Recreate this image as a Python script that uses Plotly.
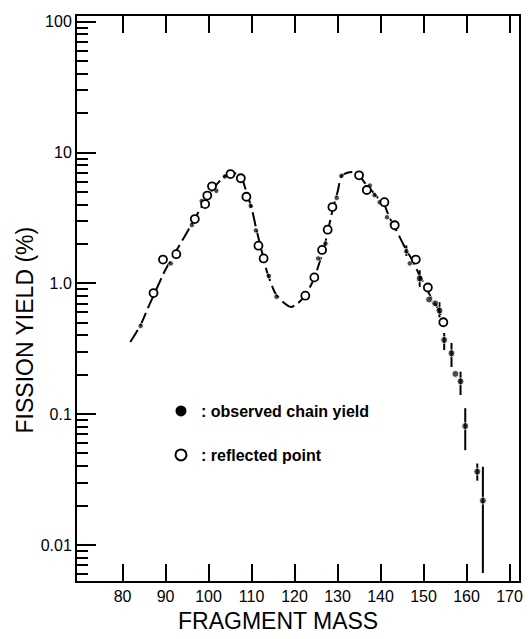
import plotly.graph_objects as go

# ---- data ----
curve_mass = [81.8, 84.2, 86.2, 88.1, 89.9, 92.2, 94.5, 96.6, 98.9, 101.0, 102.8, 104.4,
              106.0, 107.7, 108.8, 110.0, 111.1, 112.3, 113.6, 115.5, 117.3, 119.2, 120.8,
              122.4, 123.6, 124.7, 125.9, 126.8, 127.7, 128.9, 130.0, 130.9, 132.1, 133.5,
              134.8, 136.2, 137.6, 139.2, 140.8, 142.0, 143.4, 144.8, 146.1, 147.5, 148.9,
              150.3, 151.7, 153.0, 154.0, 154.7]
curve_yield = [0.356, 0.481, 0.682, 0.937, 1.26, 1.71, 2.30, 3.05, 4.11, 5.26, 6.16, 6.85,
               6.97, 6.38, 4.99, 3.77, 2.60, 1.80, 1.22, 0.843, 0.719, 0.659, 0.706,
               0.80, 0.937, 1.12, 1.48, 1.83, 2.47, 3.70, 4.99, 6.61, 6.97, 7.10,
               6.85, 5.95, 5.26, 4.57, 4.04, 3.21, 2.65, 2.14, 1.77, 1.48, 1.18,
               0.970, 0.785, 0.670, 0.582, 0.497]

obs_mass = [84.2, 91.2, 96.1, 98.4, 101.8, 103.8, 109.8, 111.0, 114.0, 115.8, 125.5, 127.2,
            129.8, 130.9, 137.5, 138.6, 139.8, 141.5, 142.6, 146.0, 146.8, 149.1, 151.3,
            152.7, 153.7, 154.8, 156.5, 157.4, 158.6, 159.7, 162.5, 163.8]
obs_yield = [0.472, 1.42, 2.79, 4.26, 5.10, 6.56, 3.90, 2.54, 1.14, 0.79, 1.55, 2.01,
             4.50, 6.64, 5.59, 4.72, 4.17, 3.20, 2.83, 1.76, 1.42, 1.09, 0.752,
             0.703, 0.619, 0.369, 0.292, 0.203, 0.178, 0.081, 0.0363, 0.0218]
obs_err_up = [0, 0, 0, 0, 0, 0, 0, 0, 0, 0, 0, 0,
              0, 0, 0, 0, 0, 0, 0, 0.19, 0, 0.17, 0,
              0, 0.10, 0.048, 0.058, 0, 0.033, 0.030, 0.0056, 0.0178]
obs_err_down = [0, 0, 0, 0, 0, 0, 0, 0, 0, 0, 0, 0,
                0, 0, 0, 0, 0, 0, 0, 0.14, 0, 0.15, 0,
                0, 0.07, 0.060, 0.063, 0, 0.038, 0.028, 0.0053, 0.0157]

ref_mass = [87.2, 89.4, 92.5, 96.8, 99.2, 99.7, 100.8, 105.1, 107.5, 108.8, 111.6, 112.8,
            122.5, 124.6, 126.4, 127.7, 128.8, 135.0, 136.8, 140.9, 143.3, 148.2, 151.0, 154.6]
ref_yield = [0.843, 1.52, 1.67, 3.10, 4.03, 4.69, 5.52, 6.85, 6.36, 4.59, 1.94, 1.55,
             0.804, 1.11, 1.80, 2.57, 3.83, 6.70, 5.17, 4.17, 2.78, 1.52, 0.929, 0.504]

x_ticks = [80, 90, 100, 110, 120, 130, 140, 150, 160, 170]
y_ticks = [0.01, 0.1, 1, 10, 100]
y_tick_text = ["0.01", "0.1", "1.0", "10", "100"]
y_minor = [m * d for d in (0.001, 0.01, 0.1, 1, 10) for m in range(2, 10)]

FONT = "Liberation Sans, Arial, sans-serif"

fig = go.Figure()

fig.add_trace(go.Scatter(
    x=curve_mass, y=curve_yield, mode="lines",
    line=dict(color="black", width=2, dash="14px,5px", shape="spline", smoothing=0.6),
    showlegend=False, hoverinfo="skip"))

obs_size = [7 if m > 147 else 5.5 for m in obs_mass]
fig.add_trace(go.Scatter(
    x=obs_mass, y=obs_yield, mode="markers",
    marker=dict(color="black", size=obs_size, symbol="circle"),
    error_y=dict(type="data", symmetric=False, array=obs_err_up, arrayminus=obs_err_down,
                 color="black", thickness=2, width=0),
    showlegend=False))

fig.add_trace(go.Scatter(
    x=ref_mass, y=ref_yield, mode="markers",
    marker=dict(color="white", size=8, symbol="circle", line=dict(color="black", width=1.8)),
    showlegend=False))

# legend-only entries
fig.add_trace(go.Scatter(
    x=[None], y=[None], mode="markers", name=": observed chain yield",
    marker=dict(color="black", size=11, symbol="circle"), legend="legend"))
fig.add_trace(go.Scatter(
    x=[None], y=[None], mode="markers", name=": reflected point",
    marker=dict(color="white", size=11, symbol="circle", line=dict(color="black", width=2)),
    legend="legend2"))

legend_common = dict(font=dict(family=FONT, size=16, color="black", weight="bold"),
                     bgcolor="rgba(0,0,0,0)", borderwidth=0, xanchor="left", yanchor="middle")

fig.update_layout(
    width=529, height=639,
    margin=dict(l=77, r=6, t=16, b=58),
    paper_bgcolor="white", plot_bgcolor="white",
    font=dict(family=FONT, color="black"),
    legend=dict(x=0.19, y=(581 - 411) / 565, **legend_common),
    legend2=dict(x=0.19, y=(581 - 455) / 565, **legend_common),
    xaxis=dict(
        range=[69.4, 172.2], showgrid=False, zeroline=False,
        showline=True, linecolor="black", linewidth=2, mirror="ticks",
        tickmode="array", tickvals=x_ticks, ticks="inside", ticklen=17, tickwidth=2,
        tickcolor="black", tickfont=dict(family=FONT, size=16, color="black"),
    ),
    yaxis=dict(
        type="log", range=[-2.276, 2.044], showgrid=False, zeroline=False,
        showline=True, linecolor="black", linewidth=2, mirror=True,
        tickmode="array", tickvals=y_ticks, ticktext=y_tick_text,
        ticks="inside", ticklen=19, tickwidth=2, tickcolor="black",
        tickfont=dict(family=FONT, size=16, color="black"),
        minor=dict(tickmode="array", tickvals=y_minor, ticks="inside", ticklen=11,
                   tickwidth=1.5, tickcolor="black", showgrid=False),
    ),
    annotations=[
        dict(text="FRAGMENT MASS", xref="paper", yref="paper",
             x=(280 - 77) / 446, y=(581 - 621) / 565, xanchor="center", yanchor="middle",
             showarrow=False, font=dict(family=FONT, size=23, color="black")),
        dict(text="FISSION YIELD (%)", xref="paper", yref="paper", textangle=-90,
             x=(25 - 77) / 446, y=(581 - 330) / 565, xanchor="center", yanchor="middle",
             showarrow=False, font=dict(family=FONT, size=23, color="black")),
    ],
)

fig.write_html("out.html")
